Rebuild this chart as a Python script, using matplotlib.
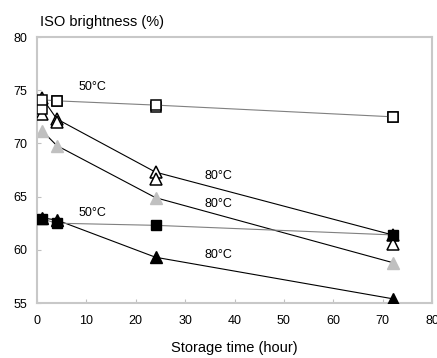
import matplotlib
matplotlib.use("Agg")
import matplotlib.pyplot as plt
import numpy as np

plt.rcParams['font.family'] = ['Liberation Sans', 'DejaVu Sans']

# Storage times (hours)
hours = [1, 4, 24, 72]

# ISO brightness (%) — duplicate measurements per condition
open_sq_a = [74.1, 74.0, 73.6, 72.5]
open_sq_b = [73.2, 74.0, 73.4, 72.5]
open_tri_a = [74.3, 72.3, 67.3, 61.4]
open_tri_b = [72.8, 72.0, 66.7, 60.5]
gray_tri = [71.2, 69.8, 64.9, 58.8]
black_sq = [62.9, 62.5, 62.3, 61.4]
black_tri = [63.0, 62.8, 59.3, 55.4]

# Temperature labels: (x, y, text)
label_x = [8.5, 8.5, 34, 34, 34]
label_y = [75.3, 63.5, 66.9, 64.3, 59.5]
label_txt = ["50°C", "50°C", "80°C", "80°C", "80°C"]

x_ticks = [0, 10, 20, 30, 40, 50, 60, 70, 80]
y_ticks = [55, 60, 65, 70, 75, 80]

fig = plt.figure(figsize=(4.37, 3.58), dpi=100)
ax = fig.add_axes([37/437, 1 - 303/358, (432 - 37)/437, (303 - 37)/358])

ms_sq = 7.5
ms_tri = 8.5
mew = 1.1

# gray triangles, 80°C
ax.plot(hours, gray_tri, color='black', lw=0.8, marker='^', ms=ms_tri,
        mfc='#c0c0c0', mec='#c0c0c0', zorder=2)
# open triangles, 80°C
ax.plot(hours, open_tri_a, color='black', lw=0.8, marker='^', ms=ms_tri,
        mfc='white', mec='black', mew=mew, zorder=3)
ax.plot(hours, open_tri_b, ls='none', marker='^', ms=ms_tri,
        mfc='white', mec='black', mew=mew, zorder=3)
# open squares, 50°C
ax.plot(hours, open_sq_b, ls='none', marker='s', ms=ms_sq,
        mfc='white', mec='black', mew=mew, zorder=4)
ax.plot(hours, open_sq_a, color='#808080', lw=0.8, marker='s', ms=ms_sq,
        mfc='white', mec='black', mew=mew, zorder=4)
# black triangles, 80°C
ax.plot(hours, black_tri, color='black', lw=0.8, marker='^', ms=ms_tri,
        mfc='black', mec='black', zorder=5)
# black squares, 50°C
ax.plot(hours, black_sq, color='#808080', lw=0.8, marker='s', ms=ms_sq,
        mfc='black', mec='black', zorder=6)

for x, y, t in zip(label_x, label_y, label_txt):
    ax.text(x, y, t, fontsize=9, ha='left', va='center', zorder=7)

ax.set_xlim(0, 80)
ax.set_ylim(55, 80)
ax.set_xticks(x_ticks)
ax.set_yticks(y_ticks)
ax.tick_params(direction='in', length=3, width=0.8, color='#c0c0c0',
               labelsize=9)
ax.tick_params(axis='y', pad=7)
ax.tick_params(axis='x', pad=9)
for s in ax.spines.values():
    s.set_color('#c8c8c8')
    s.set_linewidth(1.5)

ax.set_xlabel("Storage time (hour)", fontsize=10.5, labelpad=10)
fig.text(40/437, 1 - 22/358, "ISO brightness (%)", fontsize=10.5,
         ha='left', va='center')

fig.savefig("out.png", dpi=100)
